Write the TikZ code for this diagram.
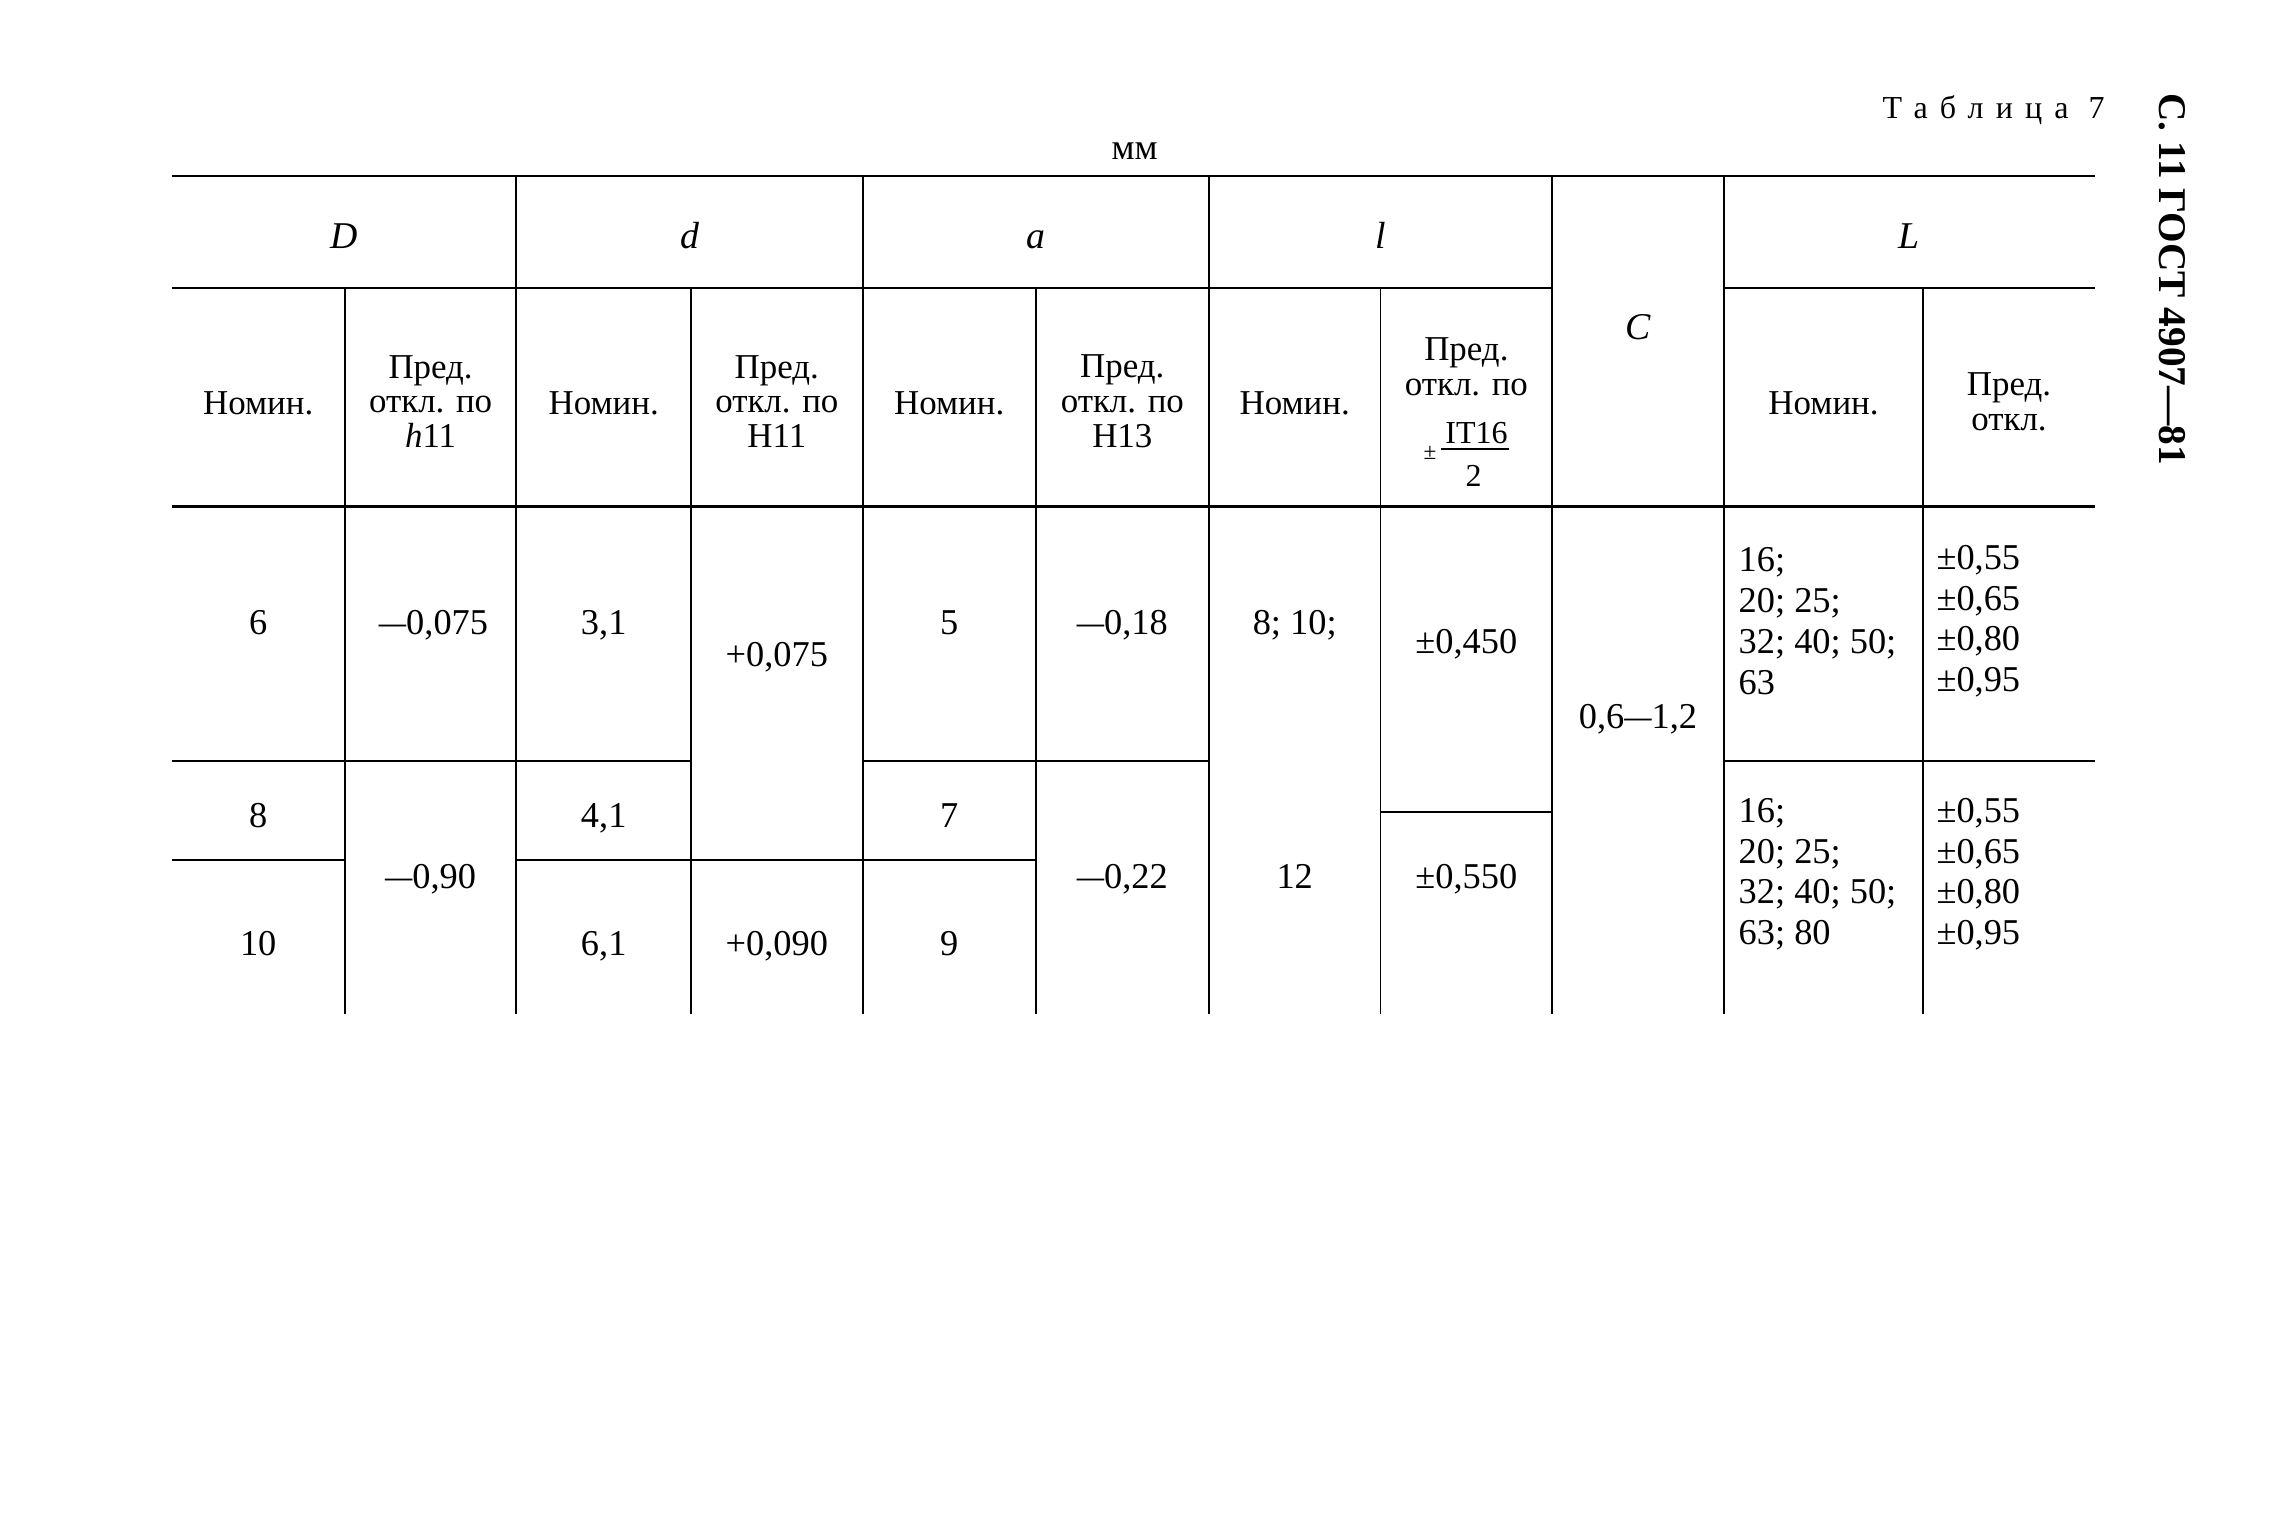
\documentclass[tikz,border=0pt]{standalone}
\usepackage{fontspec}
\setmainfont{Liberation Serif}
\newfontfamily\spacedfont[LetterSpace=38]{Liberation Serif}
\usepackage{tikz}
\usetikzlibrary{positioning}
\newcommand{\dsh}{\scalebox{0.75}[1]{—}}

\begin{document}
\begin{tikzpicture}
          [x=1pt, y=-1pt,
           every node/.style={inner sep=0pt},
           hrule/.style={line width=2pt},
           rowrule/.style={line width=1.7pt},
           vrule/.style={line width=1.3pt},
           cell/.style={font=\fontsize{25}{28}\selectfont, text height=17pt, text depth=0pt},
           letter/.style={font=\fontsize{26}{28}\selectfont\itshape, text height=17pt, text depth=0pt},
           head/.style={font=\fontsize{24}{24}\selectfont, align=center},
           block/.style={font=\fontsize{25}{28}\selectfont, align=left, anchor=west}]
          \useasboundingbox (0,0) rectangle (1568,1055);

          \node (tab) [anchor=east, font=\spacedfont\fontsize{22}{24}\selectfont] at (1447,76) {Таблица 7};
          \node (page) [rotate=-90, font=\bfseries\fontsize{27}{28}\selectfont] at (1493,192) {С. 11 ГОСТ 4907—81};
          \node (mm) [font=\fontsize{25}{28}\selectfont] at (780,104) {мм};

          \draw[hrule] (118,121) -- (1440,121);
          \draw[hrule] (118,198) -- (1067,198) (1185,198) -- (1440,198);
          \draw[hrule] (118,348) -- (1440,348);
          \draw[rowrule] (118,523) -- (475,523) (593,523) -- (831,523) (1185,523) -- (1440,523);
          \draw[rowrule] (118,591) -- (237,591) (355,591) -- (712,591);
          \draw[rowrule] (949,558) -- (1067,558);
          \foreach \x in {237,475,712,949,1322} \draw[vrule] (\x,198) -- (\x,697);
          \foreach \x in {355,593,831,1067,1185} \draw[vrule] (\x,121) -- (\x,697);

          \node (hD) [letter] at (236.5,162) {D};
          \node (hd) [letter] at (474,162) {d};
          \node (ha) [letter] at (712,162) {a};
          \node (hl) [letter] at (949,162) {l};
          \node (hC) [letter] at (1126,225) {C};
          \node (hL) [letter] at (1312.5,162) {L};

          \node (nomD) [head] at (177.5,277) {Номин.};
          \node (predD) [head] at (296,276) {Пред.\\откл. по\\\textit{h}11};
          \node (nomd) [head] at (415,277) {Номин.};
          \node (predd) [head] at (534,276) {Пред.\\откл. по\\H11};
          \node (noma) [head] at (652.5,277) {Номин.};
          \node (preda) [head] at (771.5,276) {Пред.\\откл. по\\H13};
          \node (noml) [head] at (890,277) {Номин.};
          \node (predl) [head] at (1008,252) {Пред.\\откл. по};
          \node (itnum) [font=\fontsize{22}{24}\selectfont] at (1015,298) {IT16};
          \node (itden) [font=\fontsize{22}{24}\selectfont] at (1013,327) {2};
          \draw[line width=1.1pt] ([xshift=-3pt, yshift=-3pt]itnum.south west) -- ([xshift=1pt, yshift=-3pt]itnum.south east);
          \node (itpm) [font=\fontsize{16}{18}\selectfont] at (983,311) {±};
          \node (nomL) [head] at (1253.5,277) {Номин.};
          \node (predL) [head] at (1381,276.5) {Пред.\\откл.};

          \node (D6) [cell] at (177.5,428) {6};
          \node (D8) [cell] at (177.5,560) {8};
          \node (D10) [cell] at (177.5,648) {10};
          \node (tD1) [cell] at (298,428) {\dsh0,075};
          \node (tD2) [cell] at (296,602) {\dsh0,90};
          \node (d31) [cell] at (415,428) {3,1};
          \node (d41) [cell] at (415,560) {4,1};
          \node (d61) [cell] at (415,648) {6,1};
          \node (td1) [cell] at (534,450) {+0,075};
          \node (td2) [cell] at (534,648) {+0,090};
          \node (a5) [cell] at (652.5,428) {5};
          \node (a7) [cell] at (652.5,560) {7};
          \node (a9) [cell] at (652.5,648) {9};
          \node (ta1) [cell] at (771.5,428) {\dsh0,18};
          \node (ta2) [cell] at (771.5,602) {\dsh0,22};
          \node (l1) [cell] at (890,428) {8; 10;};
          \node (l2) [cell] at (890,602) {12};
          \node (tl1) [cell] at (1008,441) {±0,450};
          \node (tl2) [cell] at (1008,602) {±0,550};
          \node (C) [cell] at (1126,492) {0,6\dsh1,2};
          \node (L1) [block] at (1195,427) {16;\\20; 25;\\32; 40; 50;\\63};
          \node (tL1) [block] at (1331,427) {±0,55\\±0,65\\±0,80\\±0,95};
          \node (L2) [block] at (1195,601) {16;\\20; 25;\\32; 40; 50;\\63; 80};
          \node (tL2) [block] at (1331,601) {±0,55\\±0,65\\±0,80\\±0,95};
        \end{tikzpicture}
\end{document}
